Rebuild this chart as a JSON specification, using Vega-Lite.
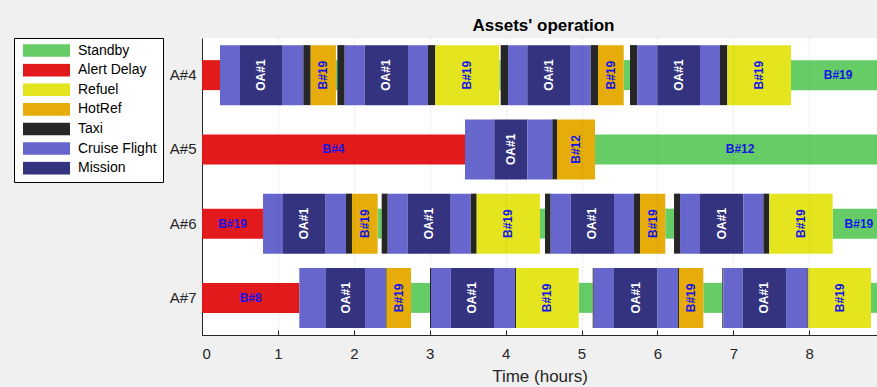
{
  "$schema": "https://vega.github.io/schema/vega-lite/v6.json",
  "autosize": "none",
  "width": 675,
  "height": 297,
  "padding": {"left": 202, "top": 38, "right": 0, "bottom": 52},
  "background": "#f0f0f0",
  "view": {"fill": "white", "stroke": null},
  "title": {"text": "Assets' operation", "fontSize": 17, "fontWeight": "bold", "font": "Liberation Sans", "color": "#000000", "anchor": "middle", "offset": 3, "dx": 4},
  "data": {"values": [
    {"asset": "A#4", "activity": "Alert Delay", "start": 0, "end": 0.237, "label": ""},
    {"asset": "A#4", "activity": "Cruise Flight", "start": 0.237, "end": 0.5, "label": ""},
    {"asset": "A#4", "activity": "Mission", "start": 0.5, "end": 1.063, "label": "OA#1"},
    {"asset": "A#4", "activity": "Cruise Flight", "start": 1.063, "end": 1.335, "label": ""},
    {"asset": "A#4", "activity": "Taxi", "start": 1.335, "end": 1.432, "label": ""},
    {"asset": "A#4", "activity": "HotRef", "start": 1.432, "end": 1.765, "label": "B#19"},
    {"asset": "A#4", "activity": "Standby", "start": 1.765, "end": 1.783, "label": ""},
    {"asset": "A#4", "activity": "Taxi", "start": 1.783, "end": 1.88, "label": ""},
    {"asset": "A#4", "activity": "Cruise Flight", "start": 1.88, "end": 2.143, "label": ""},
    {"asset": "A#4", "activity": "Mission", "start": 2.143, "end": 2.714, "label": "OA#1"},
    {"asset": "A#4", "activity": "Cruise Flight", "start": 2.714, "end": 2.977, "label": ""},
    {"asset": "A#4", "activity": "Taxi", "start": 2.977, "end": 3.074, "label": ""},
    {"asset": "A#4", "activity": "Refuel", "start": 3.074, "end": 3.917, "label": "B#19"},
    {"asset": "A#4", "activity": "Standby", "start": 3.917, "end": 3.935, "label": ""},
    {"asset": "A#4", "activity": "Taxi", "start": 3.935, "end": 4.032, "label": ""},
    {"asset": "A#4", "activity": "Cruise Flight", "start": 4.032, "end": 4.286, "label": ""},
    {"asset": "A#4", "activity": "Mission", "start": 4.286, "end": 4.858, "label": "OA#1"},
    {"asset": "A#4", "activity": "Cruise Flight", "start": 4.858, "end": 5.121, "label": ""},
    {"asset": "A#4", "activity": "Taxi", "start": 5.121, "end": 5.217, "label": ""},
    {"asset": "A#4", "activity": "HotRef", "start": 5.217, "end": 5.556, "label": "B#19"},
    {"asset": "A#4", "activity": "Standby", "start": 5.556, "end": 5.639, "label": ""},
    {"asset": "A#4", "activity": "Taxi", "start": 5.639, "end": 5.735, "label": ""},
    {"asset": "A#4", "activity": "Cruise Flight", "start": 5.735, "end": 5.998, "label": ""},
    {"asset": "A#4", "activity": "Mission", "start": 5.998, "end": 6.561, "label": "OA#1"},
    {"asset": "A#4", "activity": "Cruise Flight", "start": 6.561, "end": 6.824, "label": ""},
    {"asset": "A#4", "activity": "Taxi", "start": 6.824, "end": 6.921, "label": ""},
    {"asset": "A#4", "activity": "Refuel", "start": 6.921, "end": 7.76, "label": "B#19"},
    {"asset": "A#4", "activity": "Standby", "start": 7.76, "end": 9.0, "label": "B#19"},
    {"asset": "A#5", "activity": "Alert Delay", "start": 0, "end": 3.465, "label": "B#4"},
    {"asset": "A#5", "activity": "Cruise Flight", "start": 3.465, "end": 3.851, "label": ""},
    {"asset": "A#5", "activity": "Mission", "start": 3.851, "end": 4.286, "label": "OA#1"},
    {"asset": "A#5", "activity": "Cruise Flight", "start": 4.286, "end": 4.615, "label": ""},
    {"asset": "A#5", "activity": "Taxi", "start": 4.615, "end": 4.677, "label": ""},
    {"asset": "A#5", "activity": "HotRef", "start": 4.677, "end": 5.178, "label": "B#12"},
    {"asset": "A#5", "activity": "Standby", "start": 5.178, "end": 9.0, "label": "B#12"},
    {"asset": "A#6", "activity": "Alert Delay", "start": 0, "end": 0.804, "label": "B#19"},
    {"asset": "A#6", "activity": "Cruise Flight", "start": 0.804, "end": 1.067, "label": ""},
    {"asset": "A#6", "activity": "Mission", "start": 1.067, "end": 1.629, "label": "OA#1"},
    {"asset": "A#6", "activity": "Cruise Flight", "start": 1.629, "end": 1.897, "label": ""},
    {"asset": "A#6", "activity": "Taxi", "start": 1.897, "end": 1.976, "label": ""},
    {"asset": "A#6", "activity": "HotRef", "start": 1.976, "end": 2.314, "label": "B#19"},
    {"asset": "A#6", "activity": "Standby", "start": 2.314, "end": 2.367, "label": ""},
    {"asset": "A#6", "activity": "Taxi", "start": 2.367, "end": 2.447, "label": ""},
    {"asset": "A#6", "activity": "Cruise Flight", "start": 2.447, "end": 2.71, "label": ""},
    {"asset": "A#6", "activity": "Mission", "start": 2.71, "end": 3.277, "label": "OA#1"},
    {"asset": "A#6", "activity": "Cruise Flight", "start": 3.277, "end": 3.54, "label": ""},
    {"asset": "A#6", "activity": "Taxi", "start": 3.54, "end": 3.619, "label": ""},
    {"asset": "A#6", "activity": "Refuel", "start": 3.619, "end": 4.453, "label": "B#19"},
    {"asset": "A#6", "activity": "Standby", "start": 4.453, "end": 4.519, "label": ""},
    {"asset": "A#6", "activity": "Taxi", "start": 4.519, "end": 4.594, "label": ""},
    {"asset": "A#6", "activity": "Cruise Flight", "start": 4.594, "end": 4.858, "label": ""},
    {"asset": "A#6", "activity": "Mission", "start": 4.858, "end": 5.428, "label": "OA#1"},
    {"asset": "A#6", "activity": "Cruise Flight", "start": 5.428, "end": 5.692, "label": ""},
    {"asset": "A#6", "activity": "Taxi", "start": 5.692, "end": 5.771, "label": ""},
    {"asset": "A#6", "activity": "HotRef", "start": 5.771, "end": 6.104, "label": "B#19"},
    {"asset": "A#6", "activity": "Standby", "start": 6.104, "end": 6.219, "label": ""},
    {"asset": "A#6", "activity": "Taxi", "start": 6.219, "end": 6.298, "label": ""},
    {"asset": "A#6", "activity": "Cruise Flight", "start": 6.298, "end": 6.561, "label": ""},
    {"asset": "A#6", "activity": "Mission", "start": 6.561, "end": 7.132, "label": "OA#1"},
    {"asset": "A#6", "activity": "Cruise Flight", "start": 7.132, "end": 7.396, "label": ""},
    {"asset": "A#6", "activity": "Taxi", "start": 7.396, "end": 7.474, "label": ""},
    {"asset": "A#6", "activity": "Refuel", "start": 7.474, "end": 8.309, "label": "B#19"},
    {"asset": "A#6", "activity": "Standby", "start": 8.309, "end": 9.0, "label": "B#19"},
    {"asset": "A#7", "activity": "Alert Delay", "start": 0, "end": 1.282, "label": "B#8"},
    {"asset": "A#7", "activity": "Cruise Flight", "start": 1.282, "end": 1.634, "label": ""},
    {"asset": "A#7", "activity": "Mission", "start": 1.634, "end": 2.148, "label": "OA#1"},
    {"asset": "A#7", "activity": "Cruise Flight", "start": 2.148, "end": 2.42, "label": ""},
    {"asset": "A#7", "activity": "Taxi", "start": 2.42, "end": 2.433, "label": ""},
    {"asset": "A#7", "activity": "HotRef", "start": 2.433, "end": 2.754, "label": "B#19"},
    {"asset": "A#7", "activity": "Standby", "start": 2.754, "end": 3.004, "label": ""},
    {"asset": "A#7", "activity": "Taxi", "start": 3.004, "end": 3.017, "label": ""},
    {"asset": "A#7", "activity": "Cruise Flight", "start": 3.017, "end": 3.277, "label": ""},
    {"asset": "A#7", "activity": "Mission", "start": 3.277, "end": 3.847, "label": "OA#1"},
    {"asset": "A#7", "activity": "Cruise Flight", "start": 3.847, "end": 4.124, "label": ""},
    {"asset": "A#7", "activity": "Taxi", "start": 4.124, "end": 4.137, "label": ""},
    {"asset": "A#7", "activity": "Refuel", "start": 4.137, "end": 4.963, "label": "B#19"},
    {"asset": "A#7", "activity": "Standby", "start": 4.963, "end": 5.148, "label": ""},
    {"asset": "A#7", "activity": "Taxi", "start": 5.148, "end": 5.161, "label": ""},
    {"asset": "A#7", "activity": "Cruise Flight", "start": 5.161, "end": 5.428, "label": ""},
    {"asset": "A#7", "activity": "Mission", "start": 5.428, "end": 5.998, "label": "OA#1"},
    {"asset": "A#7", "activity": "Cruise Flight", "start": 5.998, "end": 6.271, "label": ""},
    {"asset": "A#7", "activity": "Taxi", "start": 6.271, "end": 6.284, "label": ""},
    {"asset": "A#7", "activity": "HotRef", "start": 6.284, "end": 6.605, "label": "B#19"},
    {"asset": "A#7", "activity": "Standby", "start": 6.605, "end": 6.855, "label": ""},
    {"asset": "A#7", "activity": "Taxi", "start": 6.855, "end": 6.868, "label": ""},
    {"asset": "A#7", "activity": "Cruise Flight", "start": 6.868, "end": 7.124, "label": ""},
    {"asset": "A#7", "activity": "Mission", "start": 7.124, "end": 7.695, "label": "OA#1"},
    {"asset": "A#7", "activity": "Cruise Flight", "start": 7.695, "end": 7.976, "label": ""},
    {"asset": "A#7", "activity": "Taxi", "start": 7.976, "end": 7.989, "label": ""},
    {"asset": "A#7", "activity": "Refuel", "start": 7.989, "end": 8.814, "label": "B#19"},
    {"asset": "A#7", "activity": "Standby", "start": 8.814, "end": 9.0, "label": ""}
  ]},
  "encoding": {
    "y": {
      "field": "asset", "type": "nominal",
      "scale": {"domain": ["A#4", "A#5", "A#6", "A#7"], "paddingInner": 0, "paddingOuter": 0},
      "axis": {"title": null, "labelFontSize": 15, "labelPadding": 11, "tickSize": -5, "grid": false}
    }
  },
  "layer": [
    {
      "transform": [{"filter": "datum.activity === 'Standby' || datum.activity === 'Alert Delay'"}],
      "mark": {"type": "bar", "height": 30, "clip": true},
      "encoding": {
        "x": {
          "field": "start", "type": "quantitative",
          "scale": {"domain": [0, 8.893], "nice": false, "zero": false},
          "axis": {"title": "Time (hours)", "values": [0, 1, 2, 3, 4, 5, 6, 7, 8], "format": "d", "grid": true, "gridDash": [1, 3], "gridColor": "#000000", "gridOpacity": 0.18, "tickSize": -5, "labelPadding": 16, "labelFontSize": 15, "titleFontSize": 17, "titlePadding": 7, "zindex": 1}
        },
        "x2": {"field": "end"},
        "color": {
          "field": "activity", "type": "nominal",
          "scale": {
            "domain": ["Standby", "Alert Delay", "Refuel", "HotRef", "Taxi", "Cruise Flight", "Mission"],
            "range": ["#66cc66", "#e31a1c", "#e5e51f", "#e6ad0a", "#262626", "#6666cc", "#33337f"]
          },
          "legend": {
            "title": null, "orient": "none", "legendX": -188, "legendY": 0,
            "symbolType": "M-1,-0.27H1V0.27H-1Z", "symbolSize": 2209, "clipHeight": 13,
            "symbolOffset": 3, "labelOffset": 8, "rowPadding": 4.6, "padding": 6,
            "labelFontSize": 14, "labelColor": "#000000", "labelFont": "Liberation Sans", "labelLimit": 200,
            "strokeColor": "#000000", "fillColor": "#ffffff", "cornerRadius": 0,
            "symbolStrokeWidth": 0, "symbolOpacity": 1
          }
        }
      }
    },
    {
      "transform": [{"filter": "datum.activity !== 'Standby' && datum.activity !== 'Alert Delay'"}],
      "mark": {"type": "bar", "height": 60, "clip": true},
      "encoding": {
        "x": {"field": "start", "type": "quantitative"},
        "x2": {"field": "end"},
        "color": {"field": "activity", "type": "nominal"}
      }
    },
    {
      "transform": [
        {"filter": "datum.label !== '' && (datum.activity === 'Standby' || datum.activity === 'Alert Delay')"},
        {"calculate": "(datum.start + datum.end) / 2", "as": "mid"}
      ],
      "mark": {"type": "text", "fontSize": 12, "fontWeight": "bold", "font": "Liberation Sans", "color": "#1414e6", "align": "center", "baseline": "middle", "clip": true},
      "encoding": {
        "x": {"field": "mid", "type": "quantitative"},
        "text": {"field": "label"}
      }
    },
    {
      "transform": [
        {"filter": "datum.label !== '' && datum.activity !== 'Standby' && datum.activity !== 'Alert Delay'"},
        {"calculate": "(datum.start + datum.end) / 2", "as": "mid"}
      ],
      "mark": {"type": "text", "fontSize": 12, "fontWeight": "bold", "font": "Liberation Sans", "angle": 270, "align": "center", "baseline": "middle", "clip": true},
      "encoding": {
        "x": {"field": "mid", "type": "quantitative"},
        "text": {"field": "label"},
        "color": {"condition": {"test": "datum.activity === 'Mission'", "value": "#ffffff"}, "value": "#1414e6"}
      }
    }
  ],
  "config": {
    "font": "Liberation Sans",
    "axis": {
      "domainColor": "#262626", "tickColor": "#262626", "labelColor": "#262626", "titleColor": "#262626",
      "labelFont": "Liberation Sans", "titleFont": "Liberation Sans", "titleFontWeight": "normal", "domainWidth": 1
    }
  }
}
